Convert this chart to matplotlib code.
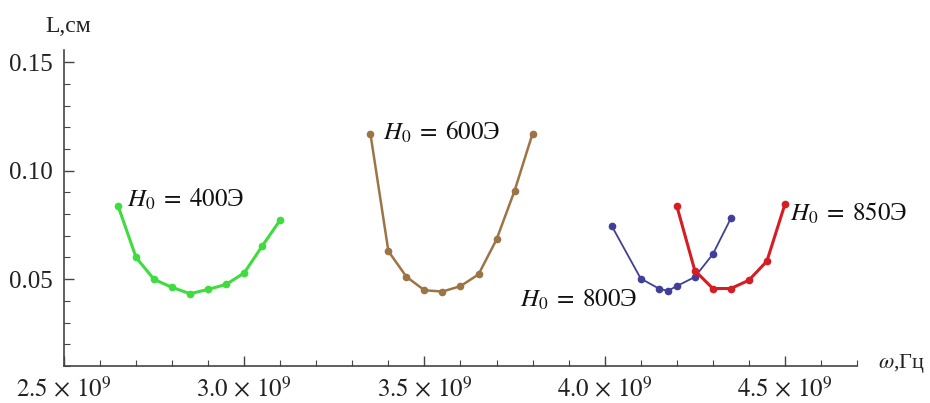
import matplotlib

matplotlib.use("Agg")
import matplotlib.pyplot as plt
from matplotlib.ticker import FixedLocator, MultipleLocator

# frequencies in units of 1e9 Hz, lengths in cm
w_400 = [2.65, 2.70, 2.75, 2.80, 2.85, 2.90, 2.95, 3.00, 3.05, 3.10]
L_400 = [0.0838, 0.0600, 0.0499, 0.0462, 0.0433, 0.0453, 0.0476, 0.0529, 0.0653, 0.0773]

w_600 = [3.35, 3.40, 3.45, 3.50, 3.55, 3.60, 3.65, 3.70, 3.75, 3.80]
L_600 = [0.1171, 0.0629, 0.0511, 0.0449, 0.0443, 0.0468, 0.0522, 0.0683, 0.0907, 0.1171]

w_800 = [4.02, 4.10, 4.15, 4.175, 4.20, 4.25, 4.30, 4.35]
L_800 = [0.0744, 0.0503, 0.0457, 0.0446, 0.0468, 0.0510, 0.0615, 0.0780]

w_850 = [4.20, 4.25, 4.30, 4.35, 4.40, 4.45, 4.50]
L_850 = [0.0838, 0.0540, 0.0457, 0.0457, 0.0495, 0.0583, 0.0845]

x_ticks = [2.5, 3.0, 3.5, 4.0, 4.5]
x_tick_labels = [r"$2.5\,\times\,10^{9}$", r"$3.0\,\times\,10^{9}$", r"$3.5\,\times\,10^{9}$",
                 r"$4.0\,\times\,10^{9}$", r"$4.5\,\times\,10^{9}$"]
y_ticks = [0.05, 0.10, 0.15]
y_tick_labels = ["0.05", "0.10", "0.15"]

series = [
    (w_400, L_400, "#3fdc3f", 2.2),
    (w_600, L_600, "#9c7446", 1.8),
    (w_800, L_800, "#40409a", 1.3),
    (w_850, L_850, "#d41e24", 2.2),
]
labels = [
    (2.675, 0.0868, r"$H_0\;=\;400$Э"),
    (3.385, 0.1178, r"$H_0\;=\;600$Э"),
    (3.765, 0.0405, r"$H_0\;=\;800$Э"),
    (4.515, 0.0805, r"$H_0\;=\;850$Э"),
]

plt.rcParams["font.family"] = ["Liberation Serif", "DejaVu Serif"]
plt.rcParams["mathtext.fontset"] = "stix"

fig = plt.figure(figsize=(9.3, 4.03), dpi=100)
ax = fig.add_axes([0.0688, 0.0918, 0.8527, 0.7842])

for w, L, color, lw in series:
    ax.plot(w, L, color=color, linewidth=lw, marker="o", markersize=4.5, clip_on=False)

for x, y, text in labels:
    ax.text(x, y, text, fontsize=18, ha="left", va="center", color="#111111")

ax.set_xlim(2.5, 4.70)
ax.set_ylim(0.01, 0.1556)

ax.xaxis.set_major_locator(FixedLocator(x_ticks))
ax.set_xticklabels(x_tick_labels)
ax.xaxis.set_minor_locator(MultipleLocator(0.1))
ax.yaxis.set_major_locator(FixedLocator(y_ticks))
ax.set_yticklabels(y_tick_labels)
ax.yaxis.set_minor_locator(MultipleLocator(0.01))

ax.tick_params(which="both", direction="in", color="#444444", labelsize=18, labelcolor="#222222")
ax.tick_params(which="major", length=7, width=1.0, pad=8)
ax.tick_params(which="minor", length=4, width=0.8)

for side in ("top", "right"):
    ax.spines[side].set_visible(False)
for side in ("left", "bottom"):
    ax.spines[side].set_color("#444444")
    ax.spines[side].set_linewidth(1.2)

fig.text(0.0735, 0.935, "L,см", fontsize=17, ha="center", va="center", color="#222222")
fig.text(0.944, 0.098, r"$\omega$,Гц", fontsize=16, ha="left", va="center", color="#222222")

fig.savefig("out.png", dpi=100)
